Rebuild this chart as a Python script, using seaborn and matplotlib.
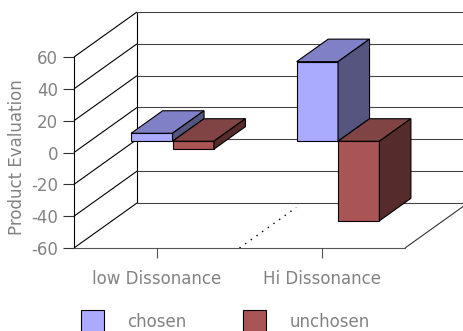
import matplotlib
matplotlib.use("Agg")
import matplotlib.pyplot as plt
import matplotlib.transforms as mtransforms
from matplotlib.patches import Polygon, Patch
import pandas as pd
import seaborn as sns

# --- data -------------------------------------------------------------
categories = ["low Dissonance", "Hi Dissonance"]
series = ["chosen", "unchosen"]
chosen = [5, 50]
unchosen = [-5, -50]
y_ticks = [-60, -40, -20, 0, 20, 40, 60]

df = pd.DataFrame({
    "dissonance": categories * 2,
    "choice": ["chosen"] * len(categories) + ["unchosen"] * len(categories),
    "evaluation": chosen + unchosen,
})

# --- style ------------------------------------------------------------
sns.set_theme(style="white")
plt.rcParams["font.family"] = ["DejaVu Sans"]
TEXT = "#828282"

front = {"chosen": "#AAAAFF", "unchosen": "#AA5555"}
top_c = {"chosen": "#8080C6", "unchosen": "#804444"}
side_c = {"chosen": "#55557F", "unchosen": "#552B2B"}

fig = plt.figure(figsize=(4.63, 3.31), dpi=100)
W, H = 463, 331
ax = fig.add_axes([74 / W, (H - 248) / H, (405 - 74) / W, (248 - 57) / H])

sns.barplot(data=df, x="dissonance", y="evaluation", hue="choice",
            order=categories, hue_order=series, palette=front,
            saturation=1, width=0.5, edgecolor="black", linewidth=0.8,
            legend=False, ax=ax, zorder=3)

ax.set_xlim(-0.5, 1.5)
ax.set_ylim(-60, 60)
ax.set_xlabel("")
ax.set_ylabel("")

# oblique depth of the chart box, in data units
DX, DY = 0.381, 28.3


def at(x, y, d):
    return (x + d * DX, y + d * DY)


line_kw = dict(clip_on=False, solid_capstyle="butt")
x0, x1 = -0.5, 1.5
y0, y1 = y_ticks[0], y_ticks[-1]

# left wall: gridlines running back from the value axis
for v in y_ticks:
    (ax_, ay_), (bx_, by_) = at(x0, v, 0), at(x0, v, 1)
    ax.plot([ax_, bx_], [ay_, by_], color="black", lw=0.8, zorder=1, **line_kw)
# back wall: left edge and horizontal gridlines
bx, _ = at(x0, 0, 1)
ax.plot([bx, bx], [y0 + DY, y1 + DY], color="black", lw=0.8, zorder=1, **line_kw)
for v in y_ticks:
    ax.plot([bx, x1 + DX + 0.1], [v + DY, v + DY], color="#444444", lw=0.8,
            zorder=1, **line_kw)
# floor: right edge and dotted category divider
(fx, fy), (gx, gy) = at(x1, y0, 0), at(x1, y0, 1)
ax.plot([fx, gx], [fy, gy], color="#333333", lw=0.8, zorder=1, **line_kw)
(px, py), (qx, qy) = at(0.5, y0, 0), at(0.5, y0, 0.9)
ax.plot([px, qx], [py, qy], color="black", lw=1.0, ls=(0, (1, 4)), zorder=1,
        **line_kw)

# 3-D bars: shift the front faces into the box, then add top and side faces
shift = mtransforms.Affine2D().translate(0.25 * DX, 0.25 * DY) + ax.transData


def series_of(bar):
    fc = bar.get_facecolor()
    return min(front, key=lambda s: sum(
        abs(a - b) for a, b in zip(matplotlib.colors.to_rgba(front[s]), fc)))


for bar in list(ax.patches):
    name = series_of(bar)
    bar.set_transform(shift)
    bar.set_clip_on(False)
    xl = bar.get_x()
    xr = xl + bar.get_width()
    ya = bar.get_y()
    yb = ya + bar.get_height()
    top, bot = max(ya, yb), min(ya, yb)
    top_face = [at(xl, top, 0.25), at(xr, top, 0.25), at(xr, top, 0.75), at(xl, top, 0.75)]
    side_face = [at(xr, bot, 0.25), at(xr, top, 0.25), at(xr, top, 0.75), at(xr, bot, 0.75)]
    for pts, col in ((top_face, top_c[name]), (side_face, side_c[name])):
        ax.add_patch(Polygon(pts, closed=True, facecolor=col, edgecolor="black",
                             lw=0.8, zorder=3, clip_on=False))

# axes: value axis at the front-left corner, category axis along the floor
for s in ("top", "right"):
    ax.spines[s].set_visible(False)
ax.spines["left"].set_color("black")
ax.spines["left"].set_linewidth(0.8)
ax.spines["bottom"].set_color("#555555")
ax.spines["bottom"].set_linewidth(0.8)
ax.set_yticks(y_ticks)
ax.set_yticklabels([str(v) for v in y_ticks])
ax.set_xticks(range(len(categories)))
ax.set_xticklabels(categories)
ax.tick_params(axis="y", direction="out", length=8, width=0.8, color="#333333",
               pad=3.5, labelsize=12, labelcolor=TEXT, left=True)
ax.tick_params(axis="x", direction="out", length=7.5, width=0.8, color="#555555",
               pad=8, labelsize=12, labelcolor=TEXT, bottom=True)

fig.text(17 / W, 1 - 157 / H, "Product Evaluation", rotation=90, ha="center",
         va="center", fontsize=12, color=TEXT)

handles = [Patch(facecolor=front[s], edgecolor="black", lw=0.8) for s in series]
leg = fig.legend(handles, series, loc="upper left",
                 bbox_to_anchor=(81 / W, 1 - 310 / H), ncol=2, frameon=False,
                 fontsize=12, handlelength=1.38, handleheight=1.75,
                 handletextpad=1.4, columnspacing=3.4, borderpad=0,
                 borderaxespad=0)
for t in leg.get_texts():
    t.set_color(TEXT)

fig.savefig("out.png", dpi=100)
